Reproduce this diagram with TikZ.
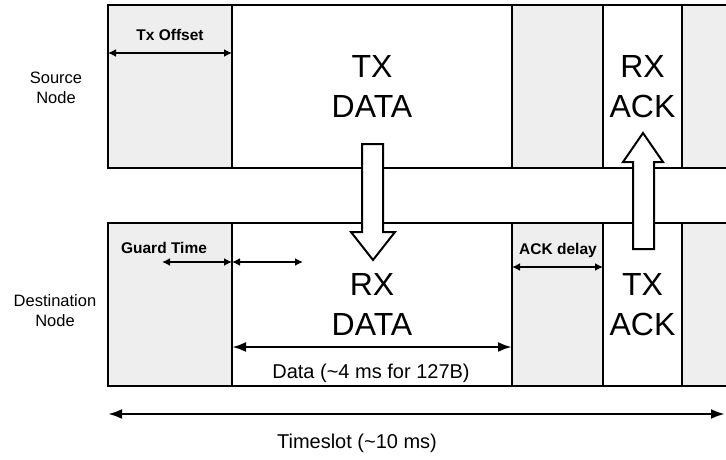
\documentclass[tikz,border=0pt]{standalone}
\usepackage{fontspec}
\setmainfont{Liberation Sans}
\usetikzlibrary{arrows.meta}
\definecolor{idle}{HTML}{EEEEEE}
\tikzset{>={Latex[length=8pt,width=8pt]}}
\tikzset{
  slot/.style={draw,line width=2.4pt,inner sep=0pt,outer sep=0pt,anchor=north west,minimum height=163pt,
    font=\fontsize{32}{40}\selectfont,align=center},
  idleslot/.style={slot,fill=idle},
  lbl/.style={font=\fontsize{16.5}{20}\selectfont,align=center},
  note/.style={font=\bfseries\fontsize{15.5}{18}\selectfont},
  dim/.style={<->,line width=1.6pt},
  wide/.style={<->,line width=2.5pt,>={Latex[length=14pt,width=10pt]}},
  blk/.style={draw,fill=white,line width=2pt,line join=miter}
}

\begin{document}
\begin{tikzpicture}[x=1pt,y=-1pt]
            \useasboundingbox (0,0) rectangle (726,460);
            \node[idleslot,minimum width=124pt] (s1) at (108,5) {};
            \node[slot,minimum width=280pt] (s2) at (232,5) {TX\\DATA};
            \node[idleslot,minimum width=91pt] (s3) at (512,5) {};
            \node[slot,minimum width=79pt] (s4) at (603,5) {RX\\ACK};
            \node[idleslot,minimum width=60pt] (s5) at (682,5) {};
            \node[idleslot,minimum width=124pt] (d1) at (108,223) {};
            \node[slot,minimum width=280pt] (d2) at (232,223) {RX\\DATA};
            \node[idleslot,minimum width=91pt] (d3) at (512,223) {};
            \node[slot,minimum width=79pt] (d4) at (603,223) {TX\\ACK};
            \node[idleslot,minimum width=60pt] (d5) at (682,223) {};
            \node[lbl] (src) at (56,88) {Source\\Node};
            \node[lbl] (dst) at (55,311) {Destination\\Node};
            \node[note] (txoff) at (170,35) {Tx Offset};
            \draw[dim] (s1.west |- 0,53) -- (s1.east |- 0,53);
            \node[note] (guard) at (164,248) {Guard Time};
            \coordinate (gtl) at (162,262);
            \coordinate (gtr) at (303,262);
            \draw[dim] (gtl) -- (d1.east |- gtl);
            \draw[dim] (d1.east |- gtr) -- (gtr);
            \node[note] (ackdly) at (558,250) {ACK delay};
            \draw[dim] (d3.west |- 0,267) -- (d3.east |- 0,267);
            \draw[wide] (d2.west |- 0,347) -- (d2.east |- 0,347);
            \node[font=\fontsize{20}{24}\selectfont] (datalen) at (371,373) {Data (\textasciitilde4 ms for 127B)};
            \coordinate (tse) at (725,414);
            \draw[wide] (s1.west |- tse) -- (tse);
            \node[font=\fontsize{20}{24}\selectfont] (ts) at (357,443) {Timeslot (\textasciitilde10 ms)};
            \draw[blk] (362,144) -- (383,144) -- (383,232) -- (395,232) -- (373,260) -- (351,232) -- (362,232) -- cycle;
            \draw[blk] (633,249) -- (654,249) -- (654,162) -- (663,162) -- (643,133) -- (623,162) -- (633,162) -- cycle;
        \end{tikzpicture}
\end{document}
